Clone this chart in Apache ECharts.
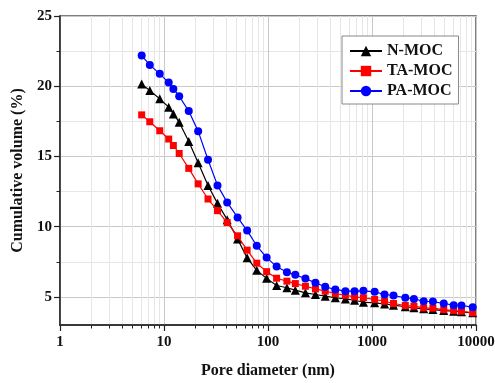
<!DOCTYPE html>
<html>
<head>
<meta charset="utf-8">
<script src="https://cdn.jsdelivr.net/npm/echarts@6/dist/echarts.min.js"></script>
<style>
  html, body { margin: 0; padding: 0; background: #fff; }
  #pore-chart { width: 495px; height: 383px; }
</style>
</head>
<body>
<div id="pore-chart"></div>
<script>
// pore diameter (nm), shared by all three samples
const poreDiameter = [6.1, 7.3, 9.1, 11.1, 12.3, 14.0, 17.3, 21.3, 26.5, 32.7, 40.5, 51, 63, 78, 97, 121,
  152, 183, 229, 286, 355, 444, 555, 680, 827, 1060, 1320, 1610, 2090, 2530, 3140, 3850, 4900, 6100, 7250, 9300];

// cumulative volume (%)
const nMOC = [20.15, 19.69, 19.1, 18.51, 18.03, 17.44, 16.07, 14.55, 12.93, 11.66, 10.5, 9.13, 7.78, 6.89, 6.32, 5.81,
  5.65, 5.48, 5.29, 5.17, 5.05, 4.94, 4.86, 4.76, 4.62, 4.58, 4.5, 4.41, 4.3, 4.22, 4.15, 4.1, 4.03, 3.98, 3.94, 3.87];
const taMOC = [17.96, 17.47, 16.83, 16.24, 15.78, 15.21, 14.15, 13.05, 11.97, 11.14, 10.29, 9.35, 8.33, 7.4, 6.8, 6.33,
  6.12, 5.95, 5.76, 5.57, 5.41, 5.24, 5.12, 5.0, 4.94, 4.82, 4.69, 4.53, 4.39, 4.34, 4.22, 4.2, 4.1, 4.03, 3.98, 3.87];
const paMOC = [22.18, 21.52, 20.88, 20.26, 19.81, 19.29, 18.23, 16.8, 14.77, 12.94, 11.73, 10.66, 9.72, 8.64, 7.8, 7.16,
  6.76, 6.57, 6.31, 6.0, 5.72, 5.53, 5.41, 5.41, 5.43, 5.36, 5.17, 5.1, 4.94, 4.86, 4.69, 4.67, 4.53, 4.41, 4.39, 4.27];

// tick labels
const xMajorTicks = [1, 10, 100, 1000, 10000];
const xMinorTicks = [2, 3, 4, 5, 6, 7, 8, 9, 20, 30, 40, 50, 60, 70, 80, 90,
  200, 300, 400, 500, 600, 700, 800, 900, 2000, 3000, 4000, 5000, 6000, 7000, 8000, 9000];
const yMajorTicks = [5, 10, 15, 20, 25];
const yMinorTicks = [7.5, 12.5, 17.5, 22.5];

const FONT = '"Liberation Serif", "Times New Roman", serif';

const pairs = (ys) => poreDiameter.map((x, i) => [x, ys[i]]);

const initChart = () => {
  const chart = echarts.init(document.getElementById('pore-chart'), null, { renderer: 'canvas' });

  const option = {
    animation: false,
    grid: {
      left: 60, top: 16, right: 19, bottom: 58,
      outerBoundsMode: 'none',
      containLabel: false,
      show: true,
      borderColor: '#555',
      borderWidth: 1.5,
      backgroundColor: 'transparent'
    },
    legend: {
      orient: 'vertical',
      left: 342,
      top: 36,
      padding: [7, 6, 5, 7],
      itemGap: 4,
      itemWidth: 32,
      itemHeight: 13,
      borderColor: '#888',
      borderWidth: 1,
      backgroundColor: '#fff',
      textStyle: { fontFamily: FONT, fontWeight: 'bold', fontSize: 16, color: '#111' },
      data: ['N-MOC', 'TA-MOC', 'PA-MOC']
    },
    xAxis: [
      {
        type: 'log',
        logBase: 10,
        min: 1,
        max: 10000,
        name: 'Pore diameter (nm)',
        nameLocation: 'middle',
        nameGap: 38,
        nameTextStyle: { fontFamily: FONT, fontWeight: 'bold', fontSize: 16, color: '#111' },
        axisLine: { show: true, lineStyle: { color: '#222', width: 1.5 } },
        axisTick: { show: true, customValues: xMajorTicks, length: 6, lineStyle: { color: '#222', width: 1.2 } },
        axisLabel: {
          customValues: xMajorTicks,
          formatter: (v) => String(v),
          margin: 10,
          fontFamily: FONT, fontWeight: 'bold', fontSize: 15, color: '#111'
        },
        splitLine: { show: true, lineStyle: { color: '#c8c8c8', width: 1 } }
      },
      {
        type: 'log',
        logBase: 10,
        min: 1,
        max: 10000,
        position: 'bottom',
        axisLine: { show: false },
        axisTick: { show: true, customValues: xMinorTicks, length: 3.5, lineStyle: { color: '#222', width: 1 } },
        axisLabel: { show: false },
        splitLine: { show: true, lineStyle: { color: '#e6e6e6', width: 1 } }
      }
    ],
    yAxis: [
      {
        type: 'value',
        min: 3,
        max: 25,
        name: 'Cumulative volume (%)',
        nameLocation: 'middle',
        nameGap: 33,
        nameTextStyle: { fontFamily: FONT, fontWeight: 'bold', fontSize: 16, color: '#111' },
        axisLine: { show: true, lineStyle: { color: '#222', width: 1.5 } },
        axisTick: { show: true, customValues: yMajorTicks, length: 6, lineStyle: { color: '#222', width: 1.2 } },
        axisLabel: {
          customValues: yMajorTicks,
          margin: 8,
          fontFamily: FONT, fontWeight: 'bold', fontSize: 15, color: '#111'
        },
        splitLine: { show: true, lineStyle: { color: '#c8c8c8', width: 1 } }
      },
      {
        type: 'value',
        min: 3,
        max: 25,
        position: 'left',
        axisLine: { show: false },
        axisTick: { show: true, customValues: yMinorTicks, length: 3.5, lineStyle: { color: '#222', width: 1 } },
        axisLabel: { show: false },
        splitLine: { show: true, lineStyle: { color: '#e6e6e6', width: 1 } }
      }
    ],
    series: [
      {
        name: 'N-MOC',
        type: 'line',
        data: pairs(nMOC),
        symbol: 'triangle',
        symbolSize: 9,
        color: '#000000',
        lineStyle: { width: 1.2 },
        z: 3
      },
      {
        name: 'TA-MOC',
        type: 'line',
        data: pairs(taMOC),
        symbol: 'rect',
        symbolSize: 7,
        color: '#ff0000',
        lineStyle: { width: 1.2 },
        z: 4
      },
      {
        name: 'PA-MOC',
        type: 'line',
        data: pairs(paMOC),
        symbol: 'circle',
        symbolSize: 8,
        color: '#0000ff',
        lineStyle: { width: 1.2 },
        z: 5
      }
    ]
  };

  chart.setOption(option);
};

initChart();
</script>
</body>
</html>
